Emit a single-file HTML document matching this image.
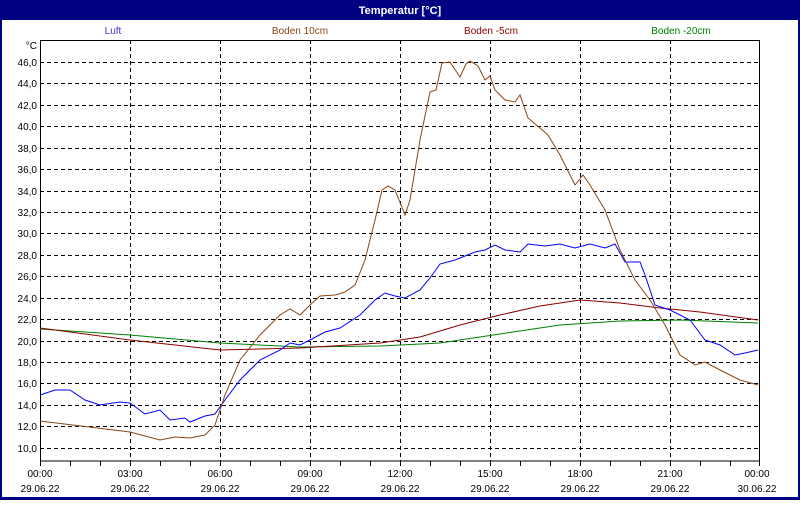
<!DOCTYPE html><html><head><style>body{margin:0;width:800px;height:500px;overflow:hidden;background:#fff}</style></head><body>
<svg width="800" height="500" xmlns="http://www.w3.org/2000/svg" font-family="Liberation Sans, sans-serif" font-size="10">
<rect x="0" y="0" width="800" height="500" fill="#000080"/>
<rect x="2" y="20" width="796" height="477" fill="#fff"/>
<text x="400" y="14" fill="#fff" font-weight="bold" text-anchor="middle" font-size="11">Temperatur [°C]</text>
<text x="113" y="34" fill="#4030d0" text-anchor="middle">Luft</text>
<text x="300" y="34" fill="#8B4513" text-anchor="middle">Boden 10cm</text>
<text x="491" y="34" fill="#8B0000" text-anchor="middle">Boden -5cm</text>
<text x="681" y="34" fill="#008000" text-anchor="middle">Boden -20cm</text>
<g stroke="#000" stroke-dasharray="4,3" stroke-width="1">
<line x1="130.5" y1="40" x2="130.5" y2="461"/><line x1="220.5" y1="40" x2="220.5" y2="461"/><line x1="310.5" y1="40" x2="310.5" y2="461"/><line x1="400.5" y1="40" x2="400.5" y2="461"/><line x1="490.5" y1="40" x2="490.5" y2="461"/><line x1="580.5" y1="40" x2="580.5" y2="461"/><line x1="670.5" y1="40" x2="670.5" y2="461"/>
<line x1="40" y1="62.5" x2="760" y2="62.5"/><line x1="40" y1="83.5" x2="760" y2="83.5"/><line x1="40" y1="105.5" x2="760" y2="105.5"/><line x1="40" y1="126.5" x2="760" y2="126.5"/><line x1="40" y1="148.5" x2="760" y2="148.5"/><line x1="40" y1="169.5" x2="760" y2="169.5"/><line x1="40" y1="191.5" x2="760" y2="191.5"/><line x1="40" y1="212.5" x2="760" y2="212.5"/><line x1="40" y1="233.5" x2="760" y2="233.5"/><line x1="40" y1="255.5" x2="760" y2="255.5"/><line x1="40" y1="276.5" x2="760" y2="276.5"/><line x1="40" y1="298.5" x2="760" y2="298.5"/><line x1="40" y1="319.5" x2="760" y2="319.5"/><line x1="40" y1="341.5" x2="760" y2="341.5"/><line x1="40" y1="362.5" x2="760" y2="362.5"/><line x1="40" y1="383.5" x2="760" y2="383.5"/><line x1="40" y1="405.5" x2="760" y2="405.5"/><line x1="40" y1="426.5" x2="760" y2="426.5"/><line x1="40" y1="448.5" x2="760" y2="448.5"/>
</g>
<rect x="40.5" y="40.5" width="719" height="420.5" fill="none" stroke="#000"/>
<g stroke="#000"><path d="M40.5 461v5M70.5 461v5M100.5 461v5M130.5 461v5M160.5 461v5M190.5 461v5M220.5 461v5M250.5 461v5M280.5 461v5M310.5 461v5M340.5 461v5M370.5 461v5M400.5 461v5M430.5 461v5M460.5 461v5M490.5 461v5M520.5 461v5M550.5 461v5M580.5 461v5M610.5 461v5M640.5 461v5M670.5 461v5M700.5 461v5M730.5 461v5M759.5 461v5"/></g>
<g text-anchor="end" fill="#000">
<text x="37" y="49">°C</text>
<text x="37" y="66">46,0</text><text x="37" y="87">44,0</text><text x="37" y="109">42,0</text><text x="37" y="130">40,0</text><text x="37" y="152">38,0</text><text x="37" y="173">36,0</text><text x="37" y="195">34,0</text><text x="37" y="216">32,0</text><text x="37" y="237">30,0</text><text x="37" y="259">28,0</text><text x="37" y="280">26,0</text><text x="37" y="302">24,0</text><text x="37" y="323">22,0</text><text x="37" y="345">20,0</text><text x="37" y="366">18,0</text><text x="37" y="387">16,0</text><text x="37" y="409">14,0</text><text x="37" y="430">12,0</text><text x="37" y="452">10,0</text>
</g>
<g text-anchor="middle" fill="#000">
<text x="40" y="477">00:00</text><text x="40" y="492">29.06.22</text>
<text x="130" y="477">03:00</text><text x="130" y="492">29.06.22</text>
<text x="220" y="477">06:00</text><text x="220" y="492">29.06.22</text>
<text x="310" y="477">09:00</text><text x="310" y="492">29.06.22</text>
<text x="400" y="477">12:00</text><text x="400" y="492">29.06.22</text>
<text x="490" y="477">15:00</text><text x="490" y="492">29.06.22</text>
<text x="580" y="477">18:00</text><text x="580" y="492">29.06.22</text>
<text x="670" y="477">21:00</text><text x="670" y="492">29.06.22</text>
<text x="757" y="477">00:00</text><text x="757" y="492">30.06.22</text>
</g>
<g fill="none" stroke-width="1">
<polyline stroke="#008000" points="40,329 130,335 220,343 300,347 380,346 440,343 500,334 560,325 620,321 680,320 758,323"/>
<polyline stroke="#8B0000" points="40,328 130,340 220,350 300,348 380,343 420,337 460,325 500,315 540,306 580,300 620,303 660,308 700,312 758,320"/>
<polyline stroke="#0000ff" points="40,395 55,390 70,390 85,400 100,405 120,402 130,403 145,414 160,410 170,420 185,418 190,422 205,416 215,414 225,400 240,380 260,360 280,350 290,343 300,345 310,340 325,332 340,328 360,315 375,300 385,293 395,296 405,298 420,290 430,278 440,264 455,260 465,256 475,252 485,250 495,245 505,250 520,252 528,244 545,246 560,244 575,248 590,244 605,248 615,244 625,262 640,262 645,275 655,305 670,310 690,320 705,340 720,345 735,355 745,353 758,350"/>
<polyline stroke="#8B4513" points="40,421 130,432 160,440 175,437 190,438 205,435 215,425 225,395 240,360 260,335 280,315 290,309 300,315 310,305 320,296 335,295 345,292 355,285 365,260 375,220 382,190 388,186 395,190 405,215 410,200 420,140 430,92 436,90 442,63 450,62 460,77 466,64 470,61 478,66 485,80 490,76 495,90 505,100 515,102 520,95 528,118 540,128 548,135 560,155 575,185 583,175 590,185 605,210 620,250 635,280 650,300 665,325 680,355 695,365 705,362 720,370 740,380 758,385"/>
</g>
</svg>
</body></html>
